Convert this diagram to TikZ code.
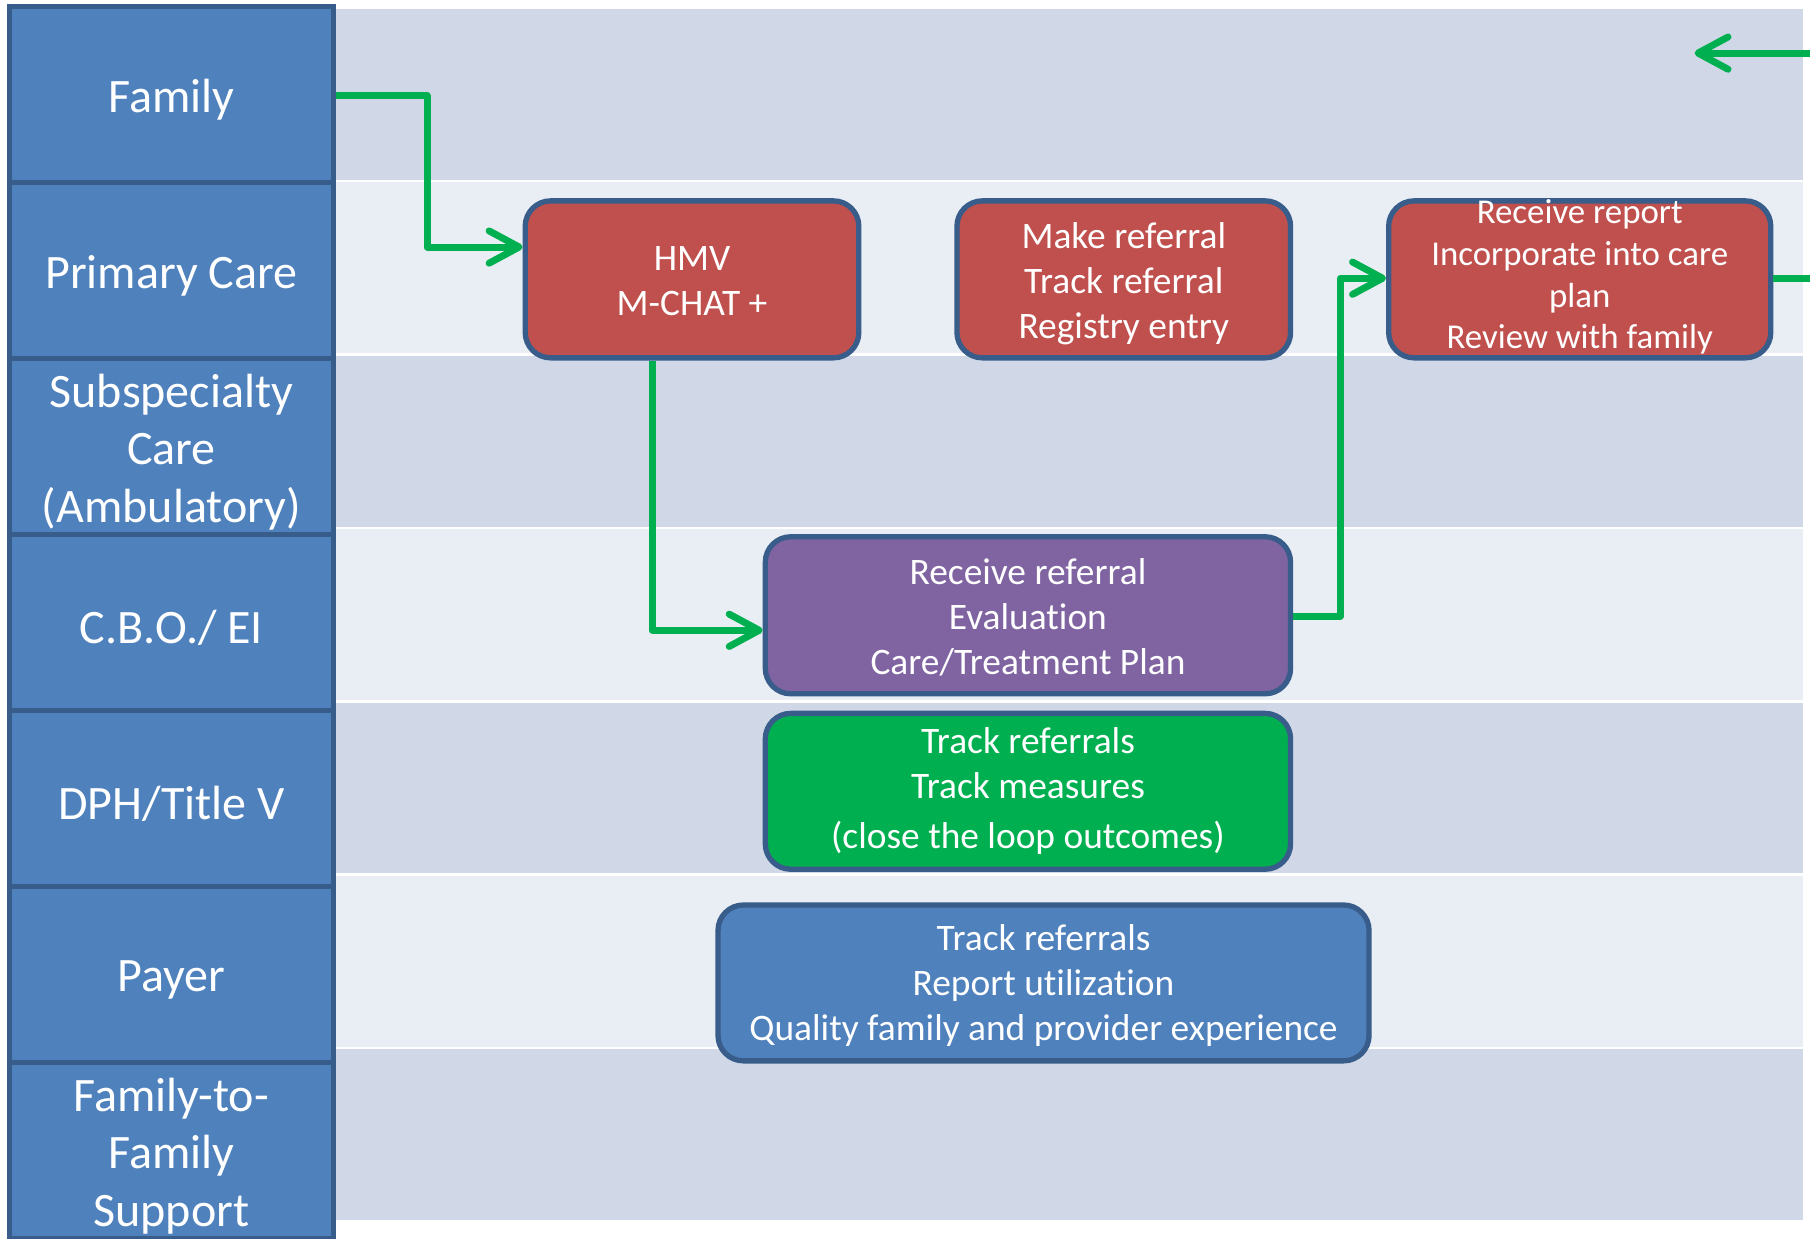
\documentclass[tikz,border=0pt]{standalone}
\usepackage{fontspec}
\setmainfont{Carlito}[Ligatures=NoCommon]
\usetikzlibrary{arrows.meta}
\definecolor{laneA}{HTML}{D0D8E8}
\definecolor{laneB}{HTML}{E9EDF4}
\definecolor{hdr}{HTML}{4F81BD}
\definecolor{edgec}{HTML}{385D8A}
\definecolor{redbox}{HTML}{C0504D}
\definecolor{purplebox}{HTML}{8064A2}
\definecolor{greenbox}{HTML}{00B050}
\definecolor{flowc}{HTML}{00B050}
\begin{document}
\begin{tikzpicture}[x=0.5pt,y=-0.5pt,
  hdrcell/.style={draw=edgec, fill=hdr, line width=2.2pt, minimum width=140.5pt, minimum height=76.25pt, inner sep=0pt},
  hdrtext/.style={text=white, align=center, inner sep=0pt, yshift=-2.5pt, font=\fontsize{20.8}{25}\selectfont},
  task/.style={draw=edgec, line width=2.3pt, rounded corners=11pt, inner sep=0pt},
  tasktext/.style={text=white, align=center, inner sep=0pt, font=\fontsize{16.2}{19.5}\selectfont},
  flow/.style={draw=flowc, line width=3pt, line join=round, -{Straight Barb[length=13pt,width=14pt,line cap=round,line join=round]}}]
\useasboundingbox[fill=white] (0,0) rectangle (1568,1073);
\begin{scope}
\clip (0,0) rectangle (1568,1073);
% lanes
\foreach \i/\c in {0/laneA,1/laneB,2/laneA,3/laneB,4/laneA,5/laneB,6/laneA}{
  \fill[\c] (289,{7.8+150.2*\i}) rectangle (1562,{7.8+150.2*\i+148});
}
% header column
\node[hdrcell, label={[hdrtext, name=famt]center:Family}] (fam) at (148.5,81.5) {};
\node[hdrcell, label={[hdrtext, name=pct]center:Primary Care}] (pc) at (148.5,234) {};
\node[hdrcell, label={[hdrtext, name=subt]center:Subspecialty\\Care\\(Ambulatory)}] (sub) at (148.5,386.5) {};
\node[hdrcell, label={[hdrtext, name=cbot]center:C.B.O./ EI}] (cbo) at (148.5,539) {};
\node[hdrcell, label={[hdrtext, name=dpht]center:DPH/Title V}] (dph) at (148.5,691.5) {};
\node[hdrcell, label={[hdrtext, name=payert]center:Payer}] (payer) at (148.5,844) {};
\node[hdrcell, label={[hdrtext, name=f2ft]center:Family-to-\\Family\\Support}] (f2f) at (148.5,996.5) {};
% tasks
\node[task, fill=redbox, minimum width=144.5pt, minimum height=68pt,
  label={[tasktext, name=hmvt, yshift=-0.8pt]center:HMV\\M-CHAT +}] (hmv) at (599.5,242) {};
\node[task, fill=redbox, minimum width=144.5pt, minimum height=68pt,
  label={[tasktext, name=refert, yshift=-2pt]center:Make referral\\Track referral\\Registry entry}] (refer) at (973.5,242) {};
\node[task, fill=redbox, minimum width=165.5pt, minimum height=68pt,
  label={[tasktext, name=reportt, yshift=1pt, font=\fontsize{15.1}{18}\selectfont]center:Receive report\\Incorporate into care\\plan\\Review with family}] (report) at (1368.5,242) {};
\node[task, fill=purplebox, minimum width=227.5pt, minimum height=68pt,
  label={[tasktext, name=evalt, yshift=-1pt]center:Receive referral\\Evaluation\\Care/Treatment Plan}] (eval) at (890.5,533) {};
\node[task, fill=greenbox, minimum width=227.5pt, minimum height=67.5pt,
  label={[tasktext, name=trackt]center:Track referrals\\Track measures\\[2pt](close the loop outcomes)}] (track) at (890.5,685.5) {};
\node[task, fill=hdr, minimum width=282pt, minimum height=67.5pt,
  label={[tasktext, name=payt, yshift=-1pt]center:Track referrals\\Report utilization\\Quality family and provider experience}] (pay) at (904,851.5) {};
% connectors
\coordinate (back) at (1468,46);
\draw[flow] (fam.east |- 0,83) -- (370,83) |- (hmv.west |- 0,214);
\draw[flow] (hmv.south -| 565,0) |- (eval.west |- 0,546);
\draw[flow] (eval.east |- 0,534) -- (1161,534) |- (report.west |- 0,241);
\draw[flow] (report.east |- 0,241) -- (1620,241) |- (back);
\end{scope}
\end{tikzpicture}
\end{document}
